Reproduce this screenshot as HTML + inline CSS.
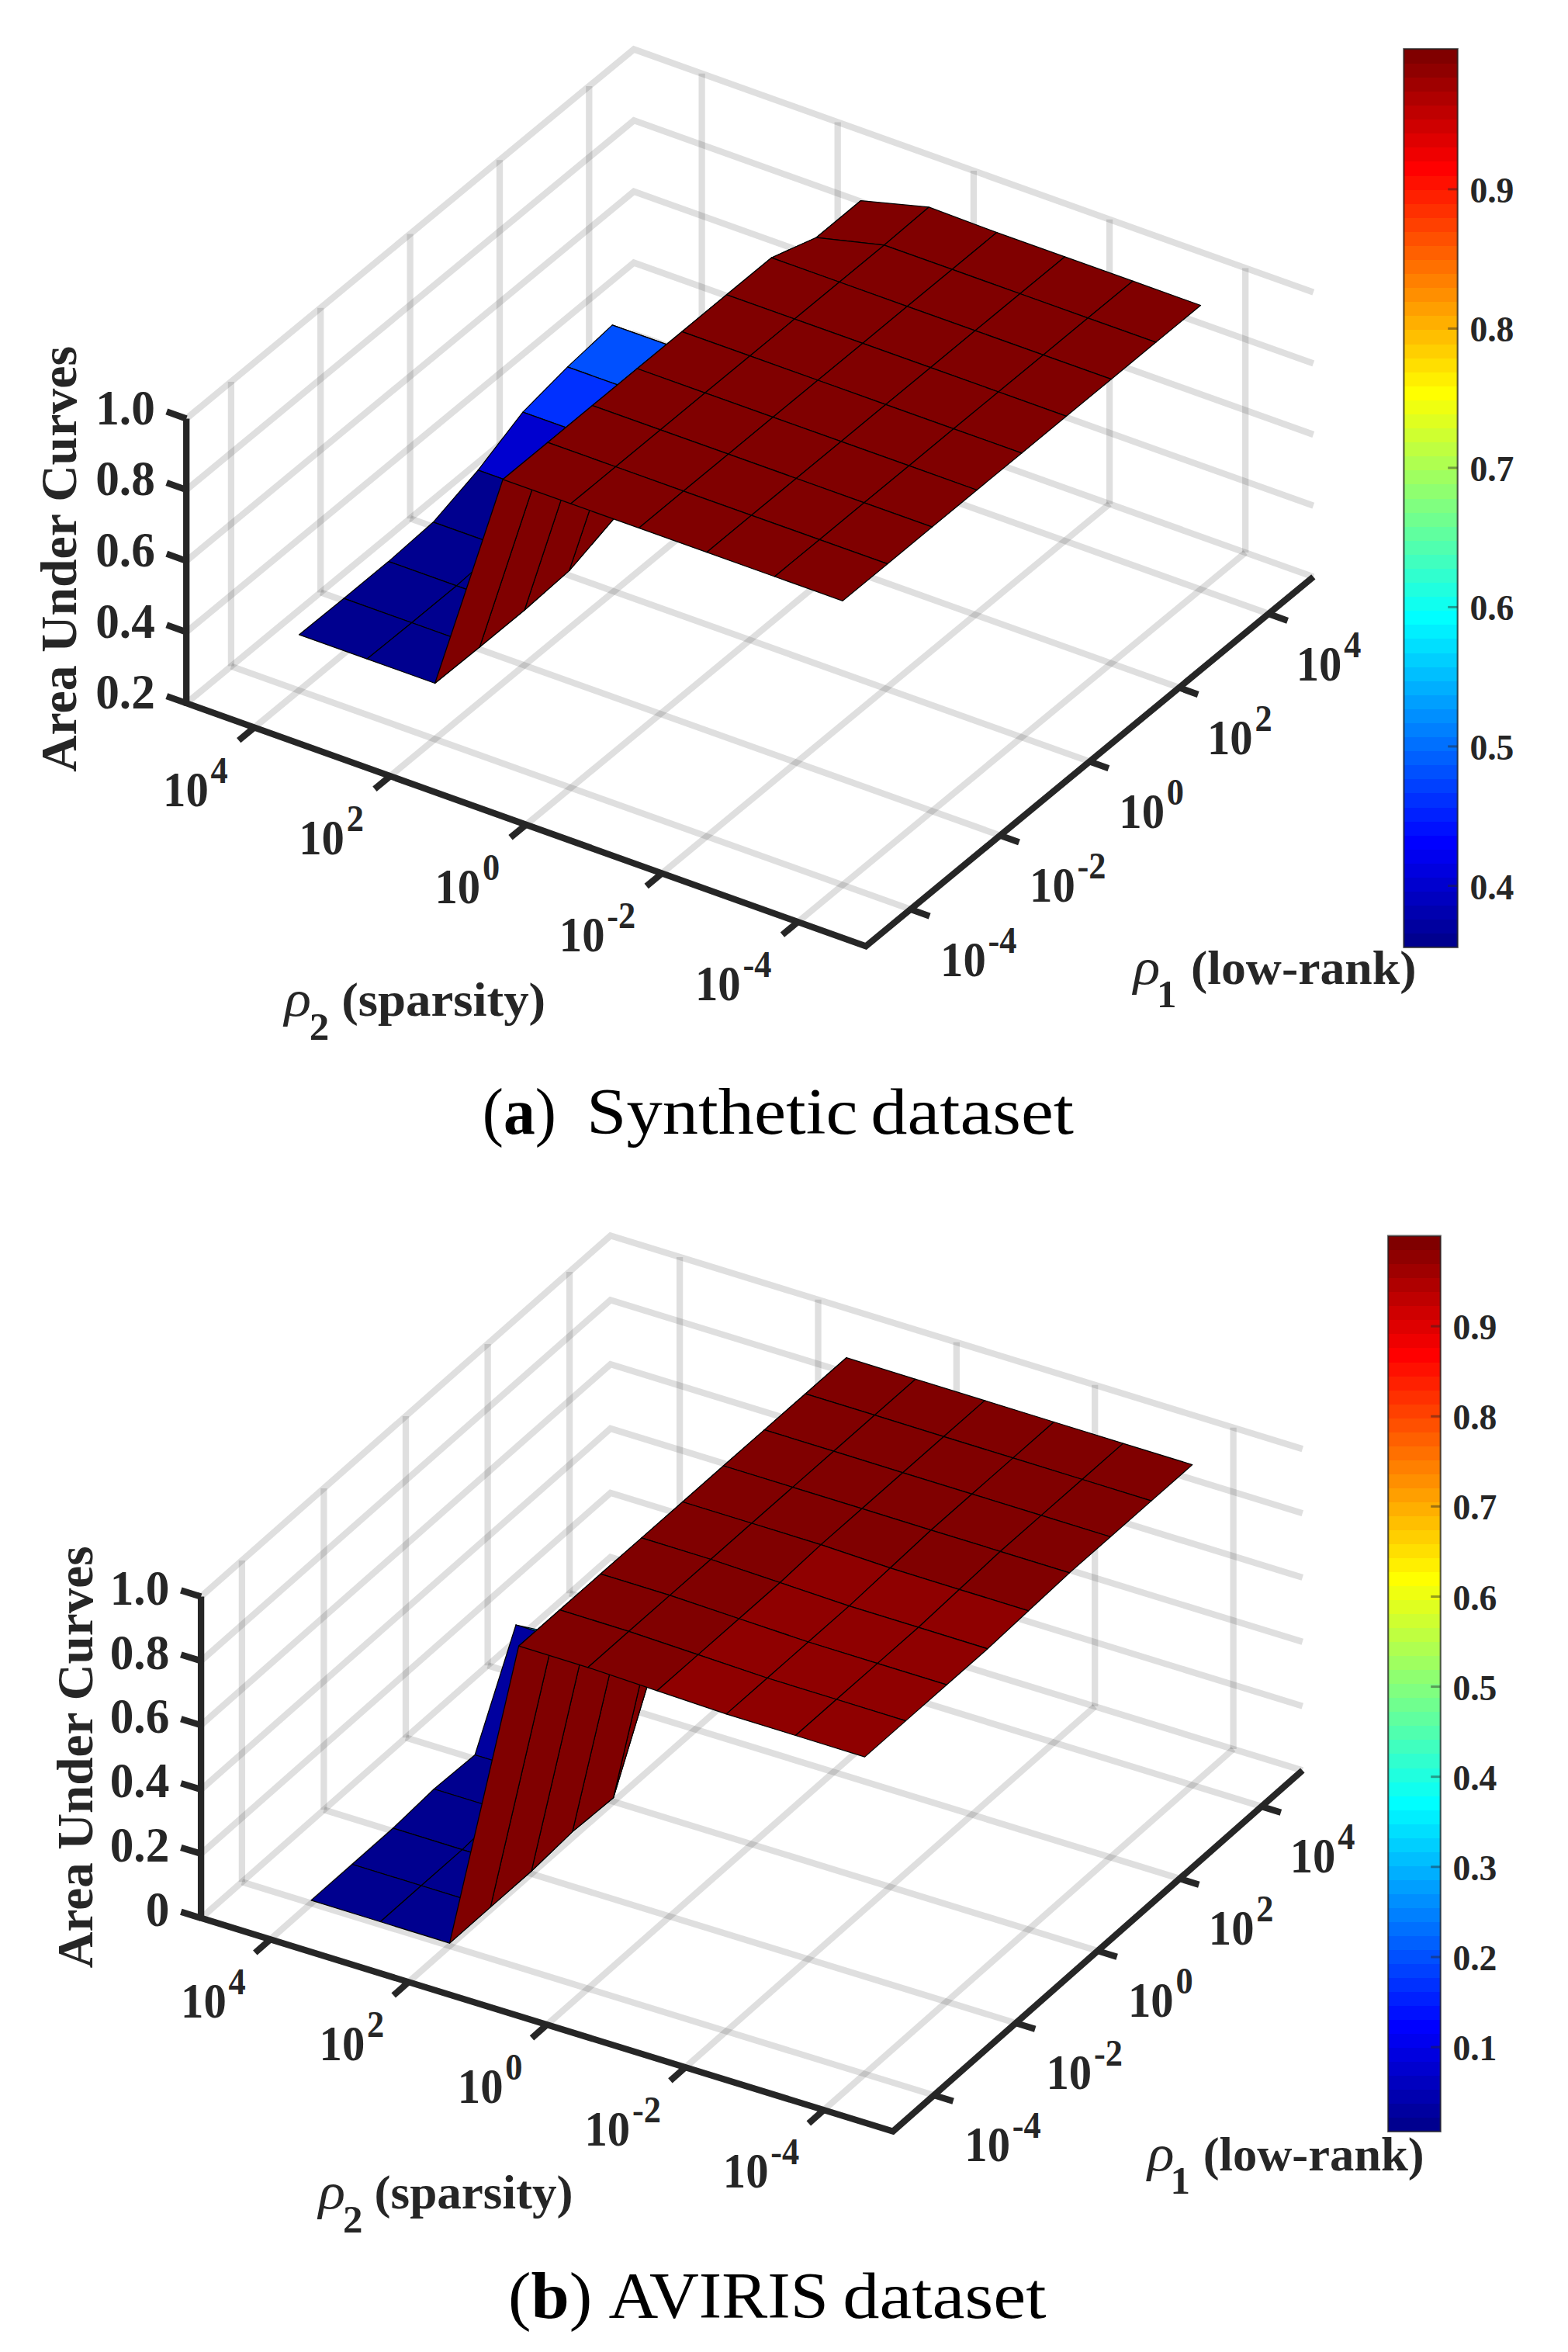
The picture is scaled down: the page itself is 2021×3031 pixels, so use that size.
<!DOCTYPE html>
<html lang="en">
<head>
<meta charset="utf-8">
<title>Area Under Curves versus rho1 (low-rank) and rho2 (sparsity)</title>
<style>
html,body{margin:0;padding:0;background:#fff;}
body{width:2021px;height:3031px;overflow:hidden;}
svg{display:block;}
</style>
</head>
<body>
<svg width="2021" height="3031" viewBox="0 0 2021 3031">
<rect width="2021" height="3031" fill="#fff"/>
<!-- (a) Synthetic dataset -->
<g><line x1="327.8" y1="937.5" x2="904.6" y2="461.5" stroke="rgba(38,38,38,0.15)" stroke-width="8.3" stroke-linecap="butt"/><line x1="502.9" y1="1000.2" x2="1079.7" y2="524.2" stroke="rgba(38,38,38,0.15)" stroke-width="8.3" stroke-linecap="butt"/><line x1="678.1" y1="1062.8" x2="1254.9" y2="586.8" stroke="rgba(38,38,38,0.15)" stroke-width="8.3" stroke-linecap="butt"/><line x1="853.3" y1="1125.4" x2="1430.1" y2="649.4" stroke="rgba(38,38,38,0.15)" stroke-width="8.3" stroke-linecap="butt"/><line x1="1028.4" y1="1188.1" x2="1605.2" y2="712.1" stroke="rgba(38,38,38,0.15)" stroke-width="8.3" stroke-linecap="butt"/><line x1="759.3" y1="477.8" x2="1635.1" y2="791" stroke="rgba(38,38,38,0.15)" stroke-width="8.3" stroke-linecap="butt"/><line x1="644" y1="573" x2="1519.8" y2="886.2" stroke="rgba(38,38,38,0.15)" stroke-width="8.3" stroke-linecap="butt"/><line x1="528.6" y1="668.2" x2="1404.4" y2="981.4" stroke="rgba(38,38,38,0.15)" stroke-width="8.3" stroke-linecap="butt"/><line x1="413.2" y1="763.4" x2="1289" y2="1076.6" stroke="rgba(38,38,38,0.15)" stroke-width="8.3" stroke-linecap="butt"/><line x1="297.9" y1="858.6" x2="1173.7" y2="1171.8" stroke="rgba(38,38,38,0.15)" stroke-width="8.3" stroke-linecap="butt"/><line x1="759.3" y1="477.8" x2="759.3" y2="111.1" stroke="rgba(38,38,38,0.15)" stroke-width="8.3" stroke-linecap="butt"/><line x1="644" y1="573" x2="644" y2="206.3" stroke="rgba(38,38,38,0.15)" stroke-width="8.3" stroke-linecap="butt"/><line x1="528.6" y1="668.2" x2="528.6" y2="301.5" stroke="rgba(38,38,38,0.15)" stroke-width="8.3" stroke-linecap="butt"/><line x1="413.2" y1="763.4" x2="413.2" y2="396.7" stroke="rgba(38,38,38,0.15)" stroke-width="8.3" stroke-linecap="butt"/><line x1="297.9" y1="858.6" x2="297.9" y2="491.9" stroke="rgba(38,38,38,0.15)" stroke-width="8.3" stroke-linecap="butt"/><line x1="904.6" y1="461.5" x2="904.6" y2="94.8" stroke="rgba(38,38,38,0.15)" stroke-width="8.3" stroke-linecap="butt"/><line x1="1079.7" y1="524.2" x2="1079.7" y2="157.4" stroke="rgba(38,38,38,0.15)" stroke-width="8.3" stroke-linecap="butt"/><line x1="1254.9" y1="586.8" x2="1254.9" y2="220.1" stroke="rgba(38,38,38,0.15)" stroke-width="8.3" stroke-linecap="butt"/><line x1="1430.1" y1="649.4" x2="1430.1" y2="282.7" stroke="rgba(38,38,38,0.15)" stroke-width="8.3" stroke-linecap="butt"/><line x1="1605.2" y1="712.1" x2="1605.2" y2="345.4" stroke="rgba(38,38,38,0.15)" stroke-width="8.3" stroke-linecap="butt"/><polyline points="240.2,906.2 817,430.2 1692.8,743.4" fill="none" stroke="rgba(38,38,38,0.15)" stroke-width="8.3" stroke-linejoin="miter"/><polyline points="240.2,814.5 817,338.5 1692.8,651.7" fill="none" stroke="rgba(38,38,38,0.15)" stroke-width="8.3" stroke-linejoin="miter"/><polyline points="240.2,722.8 817,246.8 1692.8,560" fill="none" stroke="rgba(38,38,38,0.15)" stroke-width="8.3" stroke-linejoin="miter"/><polyline points="240.2,631.2 817,155.2 1692.8,468.4" fill="none" stroke="rgba(38,38,38,0.15)" stroke-width="8.3" stroke-linejoin="miter"/><polyline points="240.2,539.5 817,63.5 1692.8,376.7" fill="none" stroke="rgba(38,38,38,0.15)" stroke-width="8.3" stroke-linejoin="miter"/></g>
<g stroke="#000" stroke-width="1.25" stroke-linejoin="round"><polygon points="789.2,418.9 876.8,450.2 934.5,539.2 846.9,507.9" fill="#0070ff"/><polygon points="876.8,450.2 964.4,481.5 1022.1,570.5 934.5,539.2" fill="#0070ff"/><polygon points="964.4,481.5 1052,306.2 1109.6,258.6 1022.1,570.5" fill="#800000"/><polygon points="1052,306.2 1139.5,315.9 1197.2,266.9 1109.6,258.6" fill="#800000"/><polygon points="1139.5,315.9 1227.1,347.2 1284.8,299.6 1197.2,266.9" fill="#800000"/><polygon points="1227.1,347.2 1314.7,378.5 1372.4,330.9 1284.8,299.6" fill="#800000"/><polygon points="1314.7,378.5 1402.3,409.8 1460,362.2 1372.4,330.9" fill="#800000"/><polygon points="1402.3,409.8 1489.9,441.1 1547.5,393.5 1460,362.2" fill="#800000"/><polygon points="731.5,472.9 819.1,504.2 876.8,450.2 789.2,418.9" fill="#0050ff"/><polygon points="819.1,504.2 906.7,535.5 964.4,481.5 876.8,450.2" fill="#0050ff"/><polygon points="906.7,535.5 994.3,332.2 1052,306.2 964.4,481.5" fill="#800000"/><polygon points="994.3,332.2 1081.9,363.5 1139.5,315.9 1052,306.2" fill="#800000"/><polygon points="1081.9,363.5 1169.4,394.8 1227.1,347.2 1139.5,315.9" fill="#800000"/><polygon points="1169.4,394.8 1257,426.1 1314.7,378.5 1227.1,347.2" fill="#800000"/><polygon points="1257,426.1 1344.6,457.4 1402.3,409.8 1314.7,378.5" fill="#800000"/><polygon points="1344.6,457.4 1432.2,488.7 1489.9,441.1 1402.3,409.8" fill="#800000"/><polygon points="673.9,531.1 761.4,562.4 819.1,504.2 731.5,472.9" fill="#0030ff"/><polygon points="761.4,562.4 849,593.7 906.7,535.5 819.1,504.2" fill="#0030ff"/><polygon points="849,593.7 936.6,379.8 994.3,332.2 906.7,535.5" fill="#800000"/><polygon points="936.6,379.8 1024.2,411.1 1081.9,363.5 994.3,332.2" fill="#800000"/><polygon points="1024.2,411.1 1111.8,442.4 1169.4,394.8 1081.9,363.5" fill="#800000"/><polygon points="1111.8,442.4 1199.3,473.7 1257,426.1 1169.4,394.8" fill="#800000"/><polygon points="1199.3,473.7 1286.9,505 1344.6,457.4 1257,426.1" fill="#800000"/><polygon points="1286.9,505 1374.5,536.3 1432.2,488.7 1344.6,457.4" fill="#800000"/><polygon points="616.2,605.8 703.8,637.1 761.4,562.4 673.9,531.1" fill="#0000cf"/><polygon points="703.8,637.1 791.3,668.4 849,593.7 761.4,562.4" fill="#0000cf"/><polygon points="791.3,668.4 878.9,427.4 936.6,379.8 849,593.7" fill="#800000"/><polygon points="878.9,427.4 966.5,458.7 1024.2,411.1 936.6,379.8" fill="#800000"/><polygon points="966.5,458.7 1054.1,490 1111.8,442.4 1024.2,411.1" fill="#800000"/><polygon points="1054.1,490 1141.7,521.3 1199.3,473.7 1111.8,442.4" fill="#800000"/><polygon points="1141.7,521.3 1229.2,552.6 1286.9,505 1199.3,473.7" fill="#800000"/><polygon points="1229.2,552.6 1316.8,583.9 1374.5,536.3 1286.9,505" fill="#800000"/><polygon points="558.5,672.8 646.1,704.1 703.8,637.1 616.2,605.8" fill="#00008f"/><polygon points="646.1,704.1 733.7,735.4 791.3,668.4 703.8,637.1" fill="#00008f"/><polygon points="733.7,735.4 821.2,475 878.9,427.4 791.3,668.4" fill="#800000"/><polygon points="821.2,475 908.8,506.3 966.5,458.7 878.9,427.4" fill="#800000"/><polygon points="908.8,506.3 996.4,537.6 1054.1,490 966.5,458.7" fill="#800000"/><polygon points="996.4,537.6 1084,568.9 1141.7,521.3 1054.1,490" fill="#800000"/><polygon points="1084,568.9 1171.6,600.2 1229.2,552.6 1141.7,521.3" fill="#800000"/><polygon points="1171.6,600.2 1259.1,631.5 1316.8,583.9 1229.2,552.6" fill="#800000"/><polygon points="500.8,723.6 588.4,754.9 646.1,704.1 558.5,672.8" fill="#00008f"/><polygon points="588.4,754.9 676,786.2 733.7,735.4 646.1,704.1" fill="#00008f"/><polygon points="676,786.2 763.6,522.6 821.2,475 733.7,735.4" fill="#800000"/><polygon points="763.6,522.6 851.1,553.9 908.8,506.3 821.2,475" fill="#800000"/><polygon points="851.1,553.9 938.7,585.2 996.4,537.6 908.8,506.3" fill="#800000"/><polygon points="938.7,585.2 1026.3,616.5 1084,568.9 996.4,537.6" fill="#800000"/><polygon points="1026.3,616.5 1113.9,647.8 1171.6,600.2 1084,568.9" fill="#800000"/><polygon points="1113.9,647.8 1201.5,679.1 1259.1,631.5 1171.6,600.2" fill="#800000"/><polygon points="443.1,771.2 530.7,802.5 588.4,754.9 500.8,723.6" fill="#00008f"/><polygon points="530.7,802.5 618.3,833.8 676,786.2 588.4,754.9" fill="#00008f"/><polygon points="618.3,833.8 705.9,570.2 763.6,522.6 676,786.2" fill="#800000"/><polygon points="705.9,570.2 793.5,601.5 851.1,553.9 763.6,522.6" fill="#800000"/><polygon points="793.5,601.5 881,632.8 938.7,585.2 851.1,553.9" fill="#800000"/><polygon points="881,632.8 968.6,664.1 1026.3,616.5 938.7,585.2" fill="#800000"/><polygon points="968.6,664.1 1056.2,695.4 1113.9,647.8 1026.3,616.5" fill="#800000"/><polygon points="1056.2,695.4 1143.8,726.7 1201.5,679.1 1113.9,647.8" fill="#800000"/><polygon points="385.5,817.9 473,849.2 530.7,802.5 443.1,771.2" fill="#00008f"/><polygon points="473,849.2 560.6,880.5 618.3,833.8 530.7,802.5" fill="#00008f"/><polygon points="560.6,880.5 648.2,617.8 705.9,570.2 618.3,833.8" fill="#800000"/><polygon points="648.2,617.8 735.8,649.1 793.5,601.5 705.9,570.2" fill="#800000"/><polygon points="735.8,649.1 823.4,680.4 881,632.8 793.5,601.5" fill="#800000"/><polygon points="823.4,680.4 910.9,711.7 968.6,664.1 881,632.8" fill="#800000"/><polygon points="910.9,711.7 998.5,743 1056.2,695.4 968.6,664.1" fill="#800000"/><polygon points="998.5,743 1086.1,774.3 1143.8,726.7 1056.2,695.4" fill="#800000"/></g>
<g><polyline points="240.2,539.5 240.2,906.2 1116,1219.4 1692.8,743.4" fill="none" stroke="#262626" stroke-width="8.3" stroke-linejoin="miter" stroke-linecap="butt"/><line x1="327.8" y1="937.5" x2="307.7" y2="954.1" stroke="#262626" stroke-width="8.3" stroke-linecap="butt"/><line x1="502.9" y1="1000.2" x2="482.9" y2="1016.7" stroke="#262626" stroke-width="8.3" stroke-linecap="butt"/><line x1="678.1" y1="1062.8" x2="658" y2="1079.3" stroke="#262626" stroke-width="8.3" stroke-linecap="butt"/><line x1="853.3" y1="1125.4" x2="833.2" y2="1142" stroke="#262626" stroke-width="8.3" stroke-linecap="butt"/><line x1="1028.4" y1="1188.1" x2="1008.4" y2="1204.6" stroke="#262626" stroke-width="8.3" stroke-linecap="butt"/><line x1="1635.1" y1="791" x2="1659.6" y2="799.8" stroke="#262626" stroke-width="8.3" stroke-linecap="butt"/><line x1="1519.8" y1="886.2" x2="1544.2" y2="895" stroke="#262626" stroke-width="8.3" stroke-linecap="butt"/><line x1="1404.4" y1="981.4" x2="1428.9" y2="990.2" stroke="#262626" stroke-width="8.3" stroke-linecap="butt"/><line x1="1289" y1="1076.6" x2="1313.5" y2="1085.4" stroke="#262626" stroke-width="8.3" stroke-linecap="butt"/><line x1="1173.7" y1="1171.8" x2="1198.2" y2="1180.6" stroke="#262626" stroke-width="8.3" stroke-linecap="butt"/><line x1="240.2" y1="906.2" x2="214.8" y2="897.1" stroke="#262626" stroke-width="8.3" stroke-linecap="butt"/><line x1="240.2" y1="814.5" x2="214.8" y2="805.4" stroke="#262626" stroke-width="8.3" stroke-linecap="butt"/><line x1="240.2" y1="722.8" x2="214.8" y2="713.7" stroke="#262626" stroke-width="8.3" stroke-linecap="butt"/><line x1="240.2" y1="631.2" x2="214.8" y2="622.1" stroke="#262626" stroke-width="8.3" stroke-linecap="butt"/><line x1="240.2" y1="539.5" x2="214.8" y2="530.4" stroke="#262626" stroke-width="8.3" stroke-linecap="butt"/></g>
<g font-family='"Liberation Serif", "DejaVu Serif", serif' font-weight="bold" fill="#262626"><text transform="translate(293.8,1038.5) scale(0.925,1)" font-size="63.5" text-anchor="end">10<tspan font-size="48" dy="-30" dx="3">4</tspan></text><text transform="translate(468.9,1101.2) scale(0.925,1)" font-size="63.5" text-anchor="end">10<tspan font-size="48" dy="-30" dx="3">2</tspan></text><text transform="translate(644.1,1163.8) scale(0.925,1)" font-size="63.5" text-anchor="end">10<tspan font-size="48" dy="-30" dx="3">0</tspan></text><text transform="translate(819.3,1226.4) scale(0.925,1)" font-size="63.5" text-anchor="end">10<tspan font-size="48" dy="-30" dx="3">-2</tspan></text><text transform="translate(994.4,1289.1) scale(0.925,1)" font-size="63.5" text-anchor="end">10<tspan font-size="48" dy="-30" dx="3">-4</tspan></text><text transform="translate(1670.7,876.7) scale(0.925,1)" font-size="63.5" text-anchor="start">10<tspan font-size="48" dy="-30" dx="3">4</tspan></text><text transform="translate(1556,971.9) scale(0.925,1)" font-size="63.5" text-anchor="start">10<tspan font-size="48" dy="-30" dx="3">2</tspan></text><text transform="translate(1442.3,1067.1) scale(0.925,1)" font-size="63.5" text-anchor="start">10<tspan font-size="48" dy="-30" dx="3">0</tspan></text><text transform="translate(1327.1,1162.3) scale(0.925,1)" font-size="63.5" text-anchor="start">10<tspan font-size="48" dy="-30" dx="3">-2</tspan></text><text transform="translate(1212.1,1257.5) scale(0.925,1)" font-size="63.5" text-anchor="start">10<tspan font-size="48" dy="-30" dx="3">-4</tspan></text><text transform="translate(199.8,913.4) scale(0.965,1)" font-size="63.5" text-anchor="end">0.2</text><text transform="translate(199.8,821.7) scale(0.965,1)" font-size="63.5" text-anchor="end">0.4</text><text transform="translate(199.8,730) scale(0.965,1)" font-size="63.5" text-anchor="end">0.6</text><text transform="translate(199.8,638.4) scale(0.965,1)" font-size="63.5" text-anchor="end">0.8</text><text transform="translate(199.8,546.7) scale(0.965,1)" font-size="63.5" text-anchor="end">1.0</text><text x="366.5" y="1309.4" font-size="65" font-style="italic" font-weight="normal" textLength="34.5" lengthAdjust="spacingAndGlyphs">ρ</text><text x="398.7" y="1339.9" font-size="51">2</text><text x="440.2" y="1309.4" font-size="61.5" textLength="263" lengthAdjust="spacingAndGlyphs">(sparsity)</text><text x="1460.7" y="1267.5" font-size="65" font-style="italic" font-weight="normal" textLength="34.5" lengthAdjust="spacingAndGlyphs">ρ</text><text x="1491" y="1298" font-size="51">1</text><text x="1535" y="1267.5" font-size="61.5" textLength="290.5" lengthAdjust="spacingAndGlyphs">(low-rank)</text><text transform="translate(98.2,720.5) rotate(-90)" font-size="64.5" text-anchor="middle" textLength="549" lengthAdjust="spacingAndGlyphs">Area Under Curves</text></g>
<g shape-rendering="crispEdges"><rect x="1809.4" y="1202.71" width="69.3" height="18.69" fill="#00008f"/><rect x="1809.4" y="1184.62" width="69.3" height="18.69" fill="#00009f"/><rect x="1809.4" y="1166.53" width="69.3" height="18.69" fill="#0000af"/><rect x="1809.4" y="1148.44" width="69.3" height="18.69" fill="#0000bf"/><rect x="1809.4" y="1130.35" width="69.3" height="18.69" fill="#0000cf"/><rect x="1809.4" y="1112.27" width="69.3" height="18.69" fill="#0000df"/><rect x="1809.4" y="1094.18" width="69.3" height="18.69" fill="#0000ef"/><rect x="1809.4" y="1076.09" width="69.3" height="18.69" fill="#0000ff"/><rect x="1809.4" y="1058.00" width="69.3" height="18.69" fill="#0010ff"/><rect x="1809.4" y="1039.91" width="69.3" height="18.69" fill="#0020ff"/><rect x="1809.4" y="1021.82" width="69.3" height="18.69" fill="#0030ff"/><rect x="1809.4" y="1003.73" width="69.3" height="18.69" fill="#0040ff"/><rect x="1809.4" y="985.64" width="69.3" height="18.69" fill="#0050ff"/><rect x="1809.4" y="967.55" width="69.3" height="18.69" fill="#0060ff"/><rect x="1809.4" y="949.46" width="69.3" height="18.69" fill="#0070ff"/><rect x="1809.4" y="931.38" width="69.3" height="18.69" fill="#0080ff"/><rect x="1809.4" y="913.29" width="69.3" height="18.69" fill="#008fff"/><rect x="1809.4" y="895.20" width="69.3" height="18.69" fill="#009fff"/><rect x="1809.4" y="877.11" width="69.3" height="18.69" fill="#00afff"/><rect x="1809.4" y="859.02" width="69.3" height="18.69" fill="#00bfff"/><rect x="1809.4" y="840.93" width="69.3" height="18.69" fill="#00cfff"/><rect x="1809.4" y="822.84" width="69.3" height="18.69" fill="#00dfff"/><rect x="1809.4" y="804.75" width="69.3" height="18.69" fill="#00efff"/><rect x="1809.4" y="786.66" width="69.3" height="18.69" fill="#00ffff"/><rect x="1809.4" y="768.57" width="69.3" height="18.69" fill="#10ffef"/><rect x="1809.4" y="750.48" width="69.3" height="18.69" fill="#20ffdf"/><rect x="1809.4" y="732.40" width="69.3" height="18.69" fill="#30ffcf"/><rect x="1809.4" y="714.31" width="69.3" height="18.69" fill="#40ffbf"/><rect x="1809.4" y="696.22" width="69.3" height="18.69" fill="#50ffaf"/><rect x="1809.4" y="678.13" width="69.3" height="18.69" fill="#60ff9f"/><rect x="1809.4" y="660.04" width="69.3" height="18.69" fill="#70ff8f"/><rect x="1809.4" y="641.95" width="69.3" height="18.69" fill="#80ff80"/><rect x="1809.4" y="623.86" width="69.3" height="18.69" fill="#8fff70"/><rect x="1809.4" y="605.77" width="69.3" height="18.69" fill="#9fff60"/><rect x="1809.4" y="587.68" width="69.3" height="18.69" fill="#afff50"/><rect x="1809.4" y="569.59" width="69.3" height="18.69" fill="#bfff40"/><rect x="1809.4" y="551.50" width="69.3" height="18.69" fill="#cfff30"/><rect x="1809.4" y="533.42" width="69.3" height="18.69" fill="#dfff20"/><rect x="1809.4" y="515.33" width="69.3" height="18.69" fill="#efff10"/><rect x="1809.4" y="497.24" width="69.3" height="18.69" fill="#ffff00"/><rect x="1809.4" y="479.15" width="69.3" height="18.69" fill="#ffef00"/><rect x="1809.4" y="461.06" width="69.3" height="18.69" fill="#ffdf00"/><rect x="1809.4" y="442.97" width="69.3" height="18.69" fill="#ffcf00"/><rect x="1809.4" y="424.88" width="69.3" height="18.69" fill="#ffbf00"/><rect x="1809.4" y="406.79" width="69.3" height="18.69" fill="#ffaf00"/><rect x="1809.4" y="388.70" width="69.3" height="18.69" fill="#ff9f00"/><rect x="1809.4" y="370.61" width="69.3" height="18.69" fill="#ff8f00"/><rect x="1809.4" y="352.52" width="69.3" height="18.69" fill="#ff8000"/><rect x="1809.4" y="334.44" width="69.3" height="18.69" fill="#ff7000"/><rect x="1809.4" y="316.35" width="69.3" height="18.69" fill="#ff6000"/><rect x="1809.4" y="298.26" width="69.3" height="18.69" fill="#ff5000"/><rect x="1809.4" y="280.17" width="69.3" height="18.69" fill="#ff4000"/><rect x="1809.4" y="262.08" width="69.3" height="18.69" fill="#ff3000"/><rect x="1809.4" y="243.99" width="69.3" height="18.69" fill="#ff2000"/><rect x="1809.4" y="225.90" width="69.3" height="18.69" fill="#ff1000"/><rect x="1809.4" y="207.81" width="69.3" height="18.69" fill="#ff0000"/><rect x="1809.4" y="189.72" width="69.3" height="18.69" fill="#ef0000"/><rect x="1809.4" y="171.63" width="69.3" height="18.69" fill="#df0000"/><rect x="1809.4" y="153.55" width="69.3" height="18.69" fill="#cf0000"/><rect x="1809.4" y="135.46" width="69.3" height="18.69" fill="#bf0000"/><rect x="1809.4" y="117.37" width="69.3" height="18.69" fill="#af0000"/><rect x="1809.4" y="99.28" width="69.3" height="18.69" fill="#9f0000"/><rect x="1809.4" y="81.19" width="69.3" height="18.69" fill="#8f0000"/><rect x="1809.4" y="63.10" width="69.3" height="18.69" fill="#800000"/></g>
<rect x="1809.4" y="63.1" width="69.3" height="1157.7" fill="none" stroke="rgba(38,38,38,0.75)" stroke-width="2.2"/>
<line x1="1866.2" y1="1141.5" x2="1878.7" y2="1141.5" stroke="rgba(38,38,38,0.45)" stroke-width="3" stroke-linecap="butt"/>
<line x1="1866.2" y1="961.9" x2="1878.7" y2="961.9" stroke="rgba(38,38,38,0.45)" stroke-width="3" stroke-linecap="butt"/>
<line x1="1866.2" y1="782.4" x2="1878.7" y2="782.4" stroke="rgba(38,38,38,0.45)" stroke-width="3" stroke-linecap="butt"/>
<line x1="1866.2" y1="602.9" x2="1878.7" y2="602.9" stroke="rgba(38,38,38,0.45)" stroke-width="3" stroke-linecap="butt"/>
<line x1="1866.2" y1="423.4" x2="1878.7" y2="423.4" stroke="rgba(38,38,38,0.45)" stroke-width="3" stroke-linecap="butt"/>
<line x1="1866.2" y1="243.9" x2="1878.7" y2="243.9" stroke="rgba(38,38,38,0.45)" stroke-width="3" stroke-linecap="butt"/>
<g font-family='"Liberation Serif", "DejaVu Serif", serif' font-weight="bold" fill="#262626"><text x="1894.4" y="1158.5" font-size="46" textLength="57" lengthAdjust="spacingAndGlyphs">0.4</text><text x="1894.4" y="978.9" font-size="46" textLength="57" lengthAdjust="spacingAndGlyphs">0.5</text><text x="1894.4" y="799.4" font-size="46" textLength="57" lengthAdjust="spacingAndGlyphs">0.6</text><text x="1894.4" y="619.9" font-size="46" textLength="57" lengthAdjust="spacingAndGlyphs">0.7</text><text x="1894.4" y="440.4" font-size="46" textLength="57" lengthAdjust="spacingAndGlyphs">0.8</text><text x="1894.4" y="260.9" font-size="46" textLength="57" lengthAdjust="spacingAndGlyphs">0.9</text></g>
<!-- (b) AVIRIS dataset -->
<g><line x1="348.3" y1="2499.3" x2="876.1" y2="2034.2" stroke="rgba(38,38,38,0.15)" stroke-width="8.3" stroke-linecap="butt"/><line x1="526.7" y1="2554.2" x2="1054.5" y2="2089.1" stroke="rgba(38,38,38,0.15)" stroke-width="8.3" stroke-linecap="butt"/><line x1="705" y1="2609.2" x2="1232.8" y2="2144.1" stroke="rgba(38,38,38,0.15)" stroke-width="8.3" stroke-linecap="butt"/><line x1="883.4" y1="2664.2" x2="1411.2" y2="2199.1" stroke="rgba(38,38,38,0.15)" stroke-width="8.3" stroke-linecap="butt"/><line x1="1061.8" y1="2719.1" x2="1589.6" y2="2254" stroke="rgba(38,38,38,0.15)" stroke-width="8.3" stroke-linecap="butt"/><line x1="734.1" y1="2053.2" x2="1626" y2="2328" stroke="rgba(38,38,38,0.15)" stroke-width="8.3" stroke-linecap="butt"/><line x1="628.6" y1="2146.2" x2="1520.5" y2="2421" stroke="rgba(38,38,38,0.15)" stroke-width="8.3" stroke-linecap="butt"/><line x1="523" y1="2239.2" x2="1414.9" y2="2514.1" stroke="rgba(38,38,38,0.15)" stroke-width="8.3" stroke-linecap="butt"/><line x1="417.4" y1="2332.3" x2="1309.3" y2="2607.1" stroke="rgba(38,38,38,0.15)" stroke-width="8.3" stroke-linecap="butt"/><line x1="311.9" y1="2425.3" x2="1203.8" y2="2700.1" stroke="rgba(38,38,38,0.15)" stroke-width="8.3" stroke-linecap="butt"/><line x1="734.1" y1="2053.2" x2="734.1" y2="1638.9" stroke="rgba(38,38,38,0.15)" stroke-width="8.3" stroke-linecap="butt"/><line x1="628.6" y1="2146.2" x2="628.6" y2="1731.9" stroke="rgba(38,38,38,0.15)" stroke-width="8.3" stroke-linecap="butt"/><line x1="523" y1="2239.2" x2="523" y2="1825" stroke="rgba(38,38,38,0.15)" stroke-width="8.3" stroke-linecap="butt"/><line x1="417.4" y1="2332.3" x2="417.4" y2="1918" stroke="rgba(38,38,38,0.15)" stroke-width="8.3" stroke-linecap="butt"/><line x1="311.9" y1="2425.3" x2="311.9" y2="2011" stroke="rgba(38,38,38,0.15)" stroke-width="8.3" stroke-linecap="butt"/><line x1="876.1" y1="2034.2" x2="876.1" y2="1619.9" stroke="rgba(38,38,38,0.15)" stroke-width="8.3" stroke-linecap="butt"/><line x1="1054.5" y1="2089.1" x2="1054.5" y2="1674.8" stroke="rgba(38,38,38,0.15)" stroke-width="8.3" stroke-linecap="butt"/><line x1="1232.8" y1="2144.1" x2="1232.8" y2="1729.8" stroke="rgba(38,38,38,0.15)" stroke-width="8.3" stroke-linecap="butt"/><line x1="1411.2" y1="2199.1" x2="1411.2" y2="1784.8" stroke="rgba(38,38,38,0.15)" stroke-width="8.3" stroke-linecap="butt"/><line x1="1589.6" y1="2254" x2="1589.6" y2="1839.7" stroke="rgba(38,38,38,0.15)" stroke-width="8.3" stroke-linecap="butt"/><polyline points="259.1,2471.8 786.9,2006.7 1678.8,2281.5" fill="none" stroke="rgba(38,38,38,0.15)" stroke-width="8.3" stroke-linejoin="miter"/><polyline points="259.1,2388.9 786.9,1923.8 1678.8,2198.6" fill="none" stroke="rgba(38,38,38,0.15)" stroke-width="8.3" stroke-linejoin="miter"/><polyline points="259.1,2306.1 786.9,1841 1678.8,2115.8" fill="none" stroke="rgba(38,38,38,0.15)" stroke-width="8.3" stroke-linejoin="miter"/><polyline points="259.1,2223.2 786.9,1758.1 1678.8,2032.9" fill="none" stroke="rgba(38,38,38,0.15)" stroke-width="8.3" stroke-linejoin="miter"/><polyline points="259.1,2140.4 786.9,1675.3 1678.8,1950.1" fill="none" stroke="rgba(38,38,38,0.15)" stroke-width="8.3" stroke-linejoin="miter"/><polyline points="259.1,2057.5 786.9,1592.4 1678.8,1867.2" fill="none" stroke="rgba(38,38,38,0.15)" stroke-width="8.3" stroke-linejoin="miter"/></g>
<g stroke="#000" stroke-width="1.25" stroke-linejoin="round"><polygon points="770.5,2125.5 859.7,2153.1 912.5,2106.7 823.3,2079.1" fill="#00008f"/><polygon points="859.7,2153.1 948.9,2180.7 1001.7,2134.3 912.5,2106.7" fill="#00008f"/><polygon points="948.9,2180.7 1038.1,1796.2 1090.9,1749.7 1001.7,2134.3" fill="#800000"/><polygon points="1038.1,1796.2 1127.3,1823.7 1180.1,1777.3 1090.9,1749.7" fill="#800000"/><polygon points="1127.3,1823.7 1216.5,1851.3 1269.3,1804.9 1180.1,1777.3" fill="#800000"/><polygon points="1216.5,1851.3 1305.7,1878.9 1358.4,1832.5 1269.3,1804.9" fill="#800000"/><polygon points="1305.7,1878.9 1394.9,1906.5 1447.6,1860.1 1358.4,1832.5" fill="#800000"/><polygon points="1394.9,1906.5 1484,1934.1 1536.8,1887.6 1447.6,1860.1" fill="#800000"/><polygon points="717.8,2105.6 806.9,2133.2 859.7,2153.1 770.5,2125.5" fill="#0020ff"/><polygon points="806.9,2133.2 896.1,2160.8 948.9,2180.7 859.7,2153.1" fill="#0020ff"/><polygon points="896.1,2160.8 985.3,1842.6 1038.1,1796.2 948.9,2180.7" fill="#800000"/><polygon points="985.3,1842.6 1074.5,1870.2 1127.3,1823.7 1038.1,1796.2" fill="#800000"/><polygon points="1074.5,1870.2 1163.7,1897.8 1216.5,1851.3 1127.3,1823.7" fill="#800000"/><polygon points="1163.7,1897.8 1252.9,1925.3 1305.7,1878.9 1216.5,1851.3" fill="#800000"/><polygon points="1252.9,1925.3 1342.1,1952.9 1394.9,1906.5 1305.7,1878.9" fill="#800000"/><polygon points="1342.1,1952.9 1431.3,1980.5 1484,1934.1 1394.9,1906.5" fill="#800000"/><polygon points="665,2094 754.2,2121.6 806.9,2133.2 717.8,2105.6" fill="#00afff"/><polygon points="754.2,2121.6 843.4,2142.5 896.1,2160.8 806.9,2133.2" fill="#00bfff"/><polygon points="843.4,2142.5 932.5,1889 985.3,1842.6 896.1,2160.8" fill="#800000"/><polygon points="932.5,1889 1021.7,1916.6 1074.5,1870.2 985.3,1842.6" fill="#800000"/><polygon points="1021.7,1916.6 1110.9,1944.2 1163.7,1897.8 1074.5,1870.2" fill="#800000"/><polygon points="1110.9,1944.2 1200.1,1971.8 1252.9,1925.3 1163.7,1897.8" fill="#800000"/><polygon points="1200.1,1971.8 1289.3,1999.3 1342.1,1952.9 1252.9,1925.3" fill="#800000"/><polygon points="1289.3,1999.3 1378.5,2026.9 1431.3,1980.5 1342.1,1952.9" fill="#800000"/><polygon points="612.2,2261.5 701.4,2289.1 754.2,2121.6 665,2094" fill="#00009f"/><polygon points="701.4,2289.1 790.6,2316.7 843.4,2142.5 754.2,2121.6" fill="#00009f"/><polygon points="790.6,2316.7 879.8,1935.5 932.5,1889 843.4,2142.5" fill="#800000"/><polygon points="879.8,1935.5 968.9,1963 1021.7,1916.6 932.5,1889" fill="#800000"/><polygon points="968.9,1963 1058.1,1990.6 1110.9,1944.2 1021.7,1916.6" fill="#800000"/><polygon points="1058.1,1990.6 1147.3,2020.7 1200.1,1971.8 1110.9,1944.2" fill="#800000"/><polygon points="1147.3,2020.7 1236.5,2048.3 1289.3,1999.3 1200.1,1971.8" fill="#800000"/><polygon points="1236.5,2048.3 1325.7,2075.8 1378.5,2026.9 1289.3,1999.3" fill="#800000"/><polygon points="559.4,2305.5 648.6,2333 701.4,2289.1 612.2,2261.5" fill="#00008f"/><polygon points="648.6,2333 737.8,2360.6 790.6,2316.7 701.4,2289.1" fill="#00008f"/><polygon points="737.8,2360.6 827,1981.9 879.8,1935.5 790.6,2316.7" fill="#800000"/><polygon points="827,1981.9 916.2,2009.5 968.9,1963 879.8,1935.5" fill="#800000"/><polygon points="916.2,2009.5 1005.4,2039.5 1058.1,1990.6 968.9,1963" fill="#800000"/><polygon points="1005.4,2039.5 1094.5,2069.6 1147.3,2020.7 1058.1,1990.6" fill="#8f0000"/><polygon points="1094.5,2069.6 1183.7,2097.2 1236.5,2048.3 1147.3,2020.7" fill="#8f0000"/><polygon points="1183.7,2097.2 1272.9,2124.8 1325.7,2075.8 1236.5,2048.3" fill="#8f0000"/><polygon points="506.6,2356 595.8,2383.6 648.6,2333 559.4,2305.5" fill="#00008f"/><polygon points="595.8,2383.6 685,2411.2 737.8,2360.6 648.6,2333" fill="#00008f"/><polygon points="685,2411.2 774.2,2028.3 827,1981.9 737.8,2360.6" fill="#800000"/><polygon points="774.2,2028.3 863.4,2055.9 916.2,2009.5 827,1981.9" fill="#800000"/><polygon points="863.4,2055.9 952.6,2086 1005.4,2039.5 916.2,2009.5" fill="#800000"/><polygon points="952.6,2086 1041.8,2116 1094.5,2069.6 1005.4,2039.5" fill="#8f0000"/><polygon points="1041.8,2116 1131,2143.6 1183.7,2097.2 1094.5,2069.6" fill="#8f0000"/><polygon points="1131,2143.6 1220.1,2171.2 1272.9,2124.8 1183.7,2097.2" fill="#8f0000"/><polygon points="453.9,2402.5 543,2430 595.8,2383.6 506.6,2356" fill="#00008f"/><polygon points="543,2430 632.2,2457.6 685,2411.2 595.8,2383.6" fill="#00008f"/><polygon points="632.2,2457.6 721.4,2074.7 774.2,2028.3 685,2411.2" fill="#800000"/><polygon points="721.4,2074.7 810.6,2102.3 863.4,2055.9 774.2,2028.3" fill="#800000"/><polygon points="810.6,2102.3 899.8,2132.4 952.6,2086 863.4,2055.9" fill="#800000"/><polygon points="899.8,2132.4 989,2162.5 1041.8,2116 952.6,2086" fill="#8f0000"/><polygon points="989,2162.5 1078.2,2190 1131,2143.6 1041.8,2116" fill="#8f0000"/><polygon points="1078.2,2190 1167.4,2217.6 1220.1,2171.2 1131,2143.6" fill="#8f0000"/><polygon points="401.1,2448.9 490.3,2476.5 543,2430 453.9,2402.5" fill="#00008f"/><polygon points="490.3,2476.5 579.5,2504.1 632.2,2457.6 543,2430" fill="#00008f"/><polygon points="579.5,2504.1 668.6,2121.2 721.4,2074.7 632.2,2457.6" fill="#800000"/><polygon points="668.6,2121.2 757.8,2148.8 810.6,2102.3 721.4,2074.7" fill="#800000"/><polygon points="757.8,2148.8 847,2178.8 899.8,2132.4 810.6,2102.3" fill="#800000"/><polygon points="847,2178.8 936.2,2208.9 989,2162.5 899.8,2132.4" fill="#8f0000"/><polygon points="936.2,2208.9 1025.4,2236.5 1078.2,2190 989,2162.5" fill="#8f0000"/><polygon points="1025.4,2236.5 1114.6,2264.1 1167.4,2217.6 1078.2,2190" fill="#8f0000"/></g>
<g><polyline points="259.1,2057.5 259.1,2471.8 1151,2746.6 1678.8,2281.5" fill="none" stroke="#262626" stroke-width="8.3" stroke-linejoin="miter" stroke-linecap="butt"/><line x1="348.3" y1="2499.3" x2="328.8" y2="2516.5" stroke="#262626" stroke-width="8.3" stroke-linecap="butt"/><line x1="526.7" y1="2554.2" x2="507.2" y2="2571.4" stroke="#262626" stroke-width="8.3" stroke-linecap="butt"/><line x1="705" y1="2609.2" x2="685.5" y2="2626.4" stroke="#262626" stroke-width="8.3" stroke-linecap="butt"/><line x1="883.4" y1="2664.2" x2="863.9" y2="2681.3" stroke="#262626" stroke-width="8.3" stroke-linecap="butt"/><line x1="1061.8" y1="2719.1" x2="1042.3" y2="2736.3" stroke="#262626" stroke-width="8.3" stroke-linecap="butt"/><line x1="1626" y1="2328" x2="1650.9" y2="2335.7" stroke="#262626" stroke-width="8.3" stroke-linecap="butt"/><line x1="1520.5" y1="2421" x2="1545.3" y2="2428.7" stroke="#262626" stroke-width="8.3" stroke-linecap="butt"/><line x1="1414.9" y1="2514.1" x2="1439.7" y2="2521.7" stroke="#262626" stroke-width="8.3" stroke-linecap="butt"/><line x1="1309.3" y1="2607.1" x2="1334.2" y2="2614.7" stroke="#262626" stroke-width="8.3" stroke-linecap="butt"/><line x1="1203.8" y1="2700.1" x2="1228.6" y2="2707.7" stroke="#262626" stroke-width="8.3" stroke-linecap="butt"/><line x1="259.1" y1="2471.8" x2="233.3" y2="2463.8" stroke="#262626" stroke-width="8.3" stroke-linecap="butt"/><line x1="259.1" y1="2388.9" x2="233.3" y2="2381" stroke="#262626" stroke-width="8.3" stroke-linecap="butt"/><line x1="259.1" y1="2306.1" x2="233.3" y2="2298.1" stroke="#262626" stroke-width="8.3" stroke-linecap="butt"/><line x1="259.1" y1="2223.2" x2="233.3" y2="2215.3" stroke="#262626" stroke-width="8.3" stroke-linecap="butt"/><line x1="259.1" y1="2140.4" x2="233.3" y2="2132.4" stroke="#262626" stroke-width="8.3" stroke-linecap="butt"/><line x1="259.1" y1="2057.5" x2="233.3" y2="2049.5" stroke="#262626" stroke-width="8.3" stroke-linecap="butt"/></g>
<g font-family='"Liberation Serif", "DejaVu Serif", serif' font-weight="bold" fill="#262626"><text transform="translate(316.8,2599.6) scale(0.925,1)" font-size="63.5" text-anchor="end">10<tspan font-size="48" dy="-30" dx="3">4</tspan></text><text transform="translate(495.2,2654.5) scale(0.925,1)" font-size="63.5" text-anchor="end">10<tspan font-size="48" dy="-30" dx="3">2</tspan></text><text transform="translate(673.5,2709.5) scale(0.925,1)" font-size="63.5" text-anchor="end">10<tspan font-size="48" dy="-30" dx="3">0</tspan></text><text transform="translate(851.9,2764.5) scale(0.925,1)" font-size="63.5" text-anchor="end">10<tspan font-size="48" dy="-30" dx="3">-2</tspan></text><text transform="translate(1030.3,2819.4) scale(0.925,1)" font-size="63.5" text-anchor="end">10<tspan font-size="48" dy="-30" dx="3">-4</tspan></text><text transform="translate(1662.7,2412.6) scale(0.925,1)" font-size="63.5" text-anchor="start">10<tspan font-size="48" dy="-30" dx="3">4</tspan></text><text transform="translate(1557.8,2505.6) scale(0.925,1)" font-size="63.5" text-anchor="start">10<tspan font-size="48" dy="-30" dx="3">2</tspan></text><text transform="translate(1453.9,2598.7) scale(0.925,1)" font-size="63.5" text-anchor="start">10<tspan font-size="48" dy="-30" dx="3">0</tspan></text><text transform="translate(1348.5,2691.7) scale(0.925,1)" font-size="63.5" text-anchor="start">10<tspan font-size="48" dy="-30" dx="3">-2</tspan></text><text transform="translate(1243.3,2784.7) scale(0.925,1)" font-size="63.5" text-anchor="start">10<tspan font-size="48" dy="-30" dx="3">-4</tspan></text><text transform="translate(218.3,2482) scale(0.965,1)" font-size="63.5" text-anchor="end">0</text><text transform="translate(218.3,2399.1) scale(0.965,1)" font-size="63.5" text-anchor="end">0.2</text><text transform="translate(218.3,2316.3) scale(0.965,1)" font-size="63.5" text-anchor="end">0.4</text><text transform="translate(218.3,2233.4) scale(0.965,1)" font-size="63.5" text-anchor="end">0.6</text><text transform="translate(218.3,2150.6) scale(0.965,1)" font-size="63.5" text-anchor="end">0.8</text><text transform="translate(218.3,2067.7) scale(0.965,1)" font-size="63.5" text-anchor="end">1.0</text><text x="410.5" y="2846" font-size="65" font-style="italic" font-weight="normal" textLength="34.5" lengthAdjust="spacingAndGlyphs">ρ</text><text x="442" y="2876.5" font-size="51">2</text><text x="482.6" y="2846" font-size="61.5" textLength="256" lengthAdjust="spacingAndGlyphs">(sparsity)</text><text x="1479" y="2796.6" font-size="65" font-style="italic" font-weight="normal" textLength="34.5" lengthAdjust="spacingAndGlyphs">ρ</text><text x="1508.5" y="2827.1" font-size="51">1</text><text x="1550.7" y="2796.6" font-size="61.5" textLength="285" lengthAdjust="spacingAndGlyphs">(low-rank)</text><text transform="translate(118.9,2264.5) rotate(-90)" font-size="64.5" text-anchor="middle" textLength="544" lengthAdjust="spacingAndGlyphs">Area Under Curves</text></g>
<g shape-rendering="crispEdges"><rect x="1789.2" y="2728.77" width="67.5" height="18.63" fill="#00008f"/><rect x="1789.2" y="2710.73" width="67.5" height="18.63" fill="#00009f"/><rect x="1789.2" y="2692.70" width="67.5" height="18.63" fill="#0000af"/><rect x="1789.2" y="2674.66" width="67.5" height="18.63" fill="#0000bf"/><rect x="1789.2" y="2656.63" width="67.5" height="18.63" fill="#0000cf"/><rect x="1789.2" y="2638.59" width="67.5" height="18.63" fill="#0000df"/><rect x="1789.2" y="2620.56" width="67.5" height="18.63" fill="#0000ef"/><rect x="1789.2" y="2602.53" width="67.5" height="18.63" fill="#0000ff"/><rect x="1789.2" y="2584.49" width="67.5" height="18.63" fill="#0010ff"/><rect x="1789.2" y="2566.46" width="67.5" height="18.63" fill="#0020ff"/><rect x="1789.2" y="2548.42" width="67.5" height="18.63" fill="#0030ff"/><rect x="1789.2" y="2530.39" width="67.5" height="18.63" fill="#0040ff"/><rect x="1789.2" y="2512.35" width="67.5" height="18.63" fill="#0050ff"/><rect x="1789.2" y="2494.32" width="67.5" height="18.63" fill="#0060ff"/><rect x="1789.2" y="2476.28" width="67.5" height="18.63" fill="#0070ff"/><rect x="1789.2" y="2458.25" width="67.5" height="18.63" fill="#0080ff"/><rect x="1789.2" y="2440.22" width="67.5" height="18.63" fill="#008fff"/><rect x="1789.2" y="2422.18" width="67.5" height="18.63" fill="#009fff"/><rect x="1789.2" y="2404.15" width="67.5" height="18.63" fill="#00afff"/><rect x="1789.2" y="2386.11" width="67.5" height="18.63" fill="#00bfff"/><rect x="1789.2" y="2368.08" width="67.5" height="18.63" fill="#00cfff"/><rect x="1789.2" y="2350.04" width="67.5" height="18.63" fill="#00dfff"/><rect x="1789.2" y="2332.01" width="67.5" height="18.63" fill="#00efff"/><rect x="1789.2" y="2313.97" width="67.5" height="18.63" fill="#00ffff"/><rect x="1789.2" y="2295.94" width="67.5" height="18.63" fill="#10ffef"/><rect x="1789.2" y="2277.91" width="67.5" height="18.63" fill="#20ffdf"/><rect x="1789.2" y="2259.87" width="67.5" height="18.63" fill="#30ffcf"/><rect x="1789.2" y="2241.84" width="67.5" height="18.63" fill="#40ffbf"/><rect x="1789.2" y="2223.80" width="67.5" height="18.63" fill="#50ffaf"/><rect x="1789.2" y="2205.77" width="67.5" height="18.63" fill="#60ff9f"/><rect x="1789.2" y="2187.73" width="67.5" height="18.63" fill="#70ff8f"/><rect x="1789.2" y="2169.70" width="67.5" height="18.63" fill="#80ff80"/><rect x="1789.2" y="2151.67" width="67.5" height="18.63" fill="#8fff70"/><rect x="1789.2" y="2133.63" width="67.5" height="18.63" fill="#9fff60"/><rect x="1789.2" y="2115.60" width="67.5" height="18.63" fill="#afff50"/><rect x="1789.2" y="2097.56" width="67.5" height="18.63" fill="#bfff40"/><rect x="1789.2" y="2079.53" width="67.5" height="18.63" fill="#cfff30"/><rect x="1789.2" y="2061.49" width="67.5" height="18.63" fill="#dfff20"/><rect x="1789.2" y="2043.46" width="67.5" height="18.63" fill="#efff10"/><rect x="1789.2" y="2025.42" width="67.5" height="18.63" fill="#ffff00"/><rect x="1789.2" y="2007.39" width="67.5" height="18.63" fill="#ffef00"/><rect x="1789.2" y="1989.36" width="67.5" height="18.63" fill="#ffdf00"/><rect x="1789.2" y="1971.32" width="67.5" height="18.63" fill="#ffcf00"/><rect x="1789.2" y="1953.29" width="67.5" height="18.63" fill="#ffbf00"/><rect x="1789.2" y="1935.25" width="67.5" height="18.63" fill="#ffaf00"/><rect x="1789.2" y="1917.22" width="67.5" height="18.63" fill="#ff9f00"/><rect x="1789.2" y="1899.18" width="67.5" height="18.63" fill="#ff8f00"/><rect x="1789.2" y="1881.15" width="67.5" height="18.63" fill="#ff8000"/><rect x="1789.2" y="1863.12" width="67.5" height="18.63" fill="#ff7000"/><rect x="1789.2" y="1845.08" width="67.5" height="18.63" fill="#ff6000"/><rect x="1789.2" y="1827.05" width="67.5" height="18.63" fill="#ff5000"/><rect x="1789.2" y="1809.01" width="67.5" height="18.63" fill="#ff4000"/><rect x="1789.2" y="1790.98" width="67.5" height="18.63" fill="#ff3000"/><rect x="1789.2" y="1772.94" width="67.5" height="18.63" fill="#ff2000"/><rect x="1789.2" y="1754.91" width="67.5" height="18.63" fill="#ff1000"/><rect x="1789.2" y="1736.88" width="67.5" height="18.63" fill="#ff0000"/><rect x="1789.2" y="1718.84" width="67.5" height="18.63" fill="#ef0000"/><rect x="1789.2" y="1700.81" width="67.5" height="18.63" fill="#df0000"/><rect x="1789.2" y="1682.77" width="67.5" height="18.63" fill="#cf0000"/><rect x="1789.2" y="1664.74" width="67.5" height="18.63" fill="#bf0000"/><rect x="1789.2" y="1646.70" width="67.5" height="18.63" fill="#af0000"/><rect x="1789.2" y="1628.67" width="67.5" height="18.63" fill="#9f0000"/><rect x="1789.2" y="1610.63" width="67.5" height="18.63" fill="#8f0000"/><rect x="1789.2" y="1592.60" width="67.5" height="18.63" fill="#800000"/></g>
<rect x="1789.2" y="1592.6" width="67.5" height="1154.2" fill="none" stroke="rgba(38,38,38,0.75)" stroke-width="2.2"/>
<line x1="1844.2" y1="2638.1" x2="1856.7" y2="2638.1" stroke="rgba(38,38,38,0.45)" stroke-width="3" stroke-linecap="butt"/>
<line x1="1844.2" y1="2522" x2="1856.7" y2="2522" stroke="rgba(38,38,38,0.45)" stroke-width="3" stroke-linecap="butt"/>
<line x1="1844.2" y1="2405.8" x2="1856.7" y2="2405.8" stroke="rgba(38,38,38,0.45)" stroke-width="3" stroke-linecap="butt"/>
<line x1="1844.2" y1="2289.7" x2="1856.7" y2="2289.7" stroke="rgba(38,38,38,0.45)" stroke-width="3" stroke-linecap="butt"/>
<line x1="1844.2" y1="2173.6" x2="1856.7" y2="2173.6" stroke="rgba(38,38,38,0.45)" stroke-width="3" stroke-linecap="butt"/>
<line x1="1844.2" y1="2057.5" x2="1856.7" y2="2057.5" stroke="rgba(38,38,38,0.45)" stroke-width="3" stroke-linecap="butt"/>
<line x1="1844.2" y1="1941.3" x2="1856.7" y2="1941.3" stroke="rgba(38,38,38,0.45)" stroke-width="3" stroke-linecap="butt"/>
<line x1="1844.2" y1="1825.2" x2="1856.7" y2="1825.2" stroke="rgba(38,38,38,0.45)" stroke-width="3" stroke-linecap="butt"/>
<line x1="1844.2" y1="1709.1" x2="1856.7" y2="1709.1" stroke="rgba(38,38,38,0.45)" stroke-width="3" stroke-linecap="butt"/>
<g font-family='"Liberation Serif", "DejaVu Serif", serif' font-weight="bold" fill="#262626"><text x="1872.4" y="2655.1" font-size="46" textLength="57" lengthAdjust="spacingAndGlyphs">0.1</text><text x="1872.4" y="2539" font-size="46" textLength="57" lengthAdjust="spacingAndGlyphs">0.2</text><text x="1872.4" y="2422.8" font-size="46" textLength="57" lengthAdjust="spacingAndGlyphs">0.3</text><text x="1872.4" y="2306.7" font-size="46" textLength="57" lengthAdjust="spacingAndGlyphs">0.4</text><text x="1872.4" y="2190.6" font-size="46" textLength="57" lengthAdjust="spacingAndGlyphs">0.5</text><text x="1872.4" y="2074.5" font-size="46" textLength="57" lengthAdjust="spacingAndGlyphs">0.6</text><text x="1872.4" y="1958.3" font-size="46" textLength="57" lengthAdjust="spacingAndGlyphs">0.7</text><text x="1872.4" y="1842.2" font-size="46" textLength="57" lengthAdjust="spacingAndGlyphs">0.8</text><text x="1872.4" y="1726.1" font-size="46" textLength="57" lengthAdjust="spacingAndGlyphs">0.9</text></g>
<!-- captions -->
<g font-family='"Liberation Serif", "DejaVu Serif", serif' font-size="85" fill="#000">
<text x="621.7" y="1460.6" textLength="95.2" lengthAdjust="spacingAndGlyphs">(<tspan font-weight="bold">a</tspan>)</text>
<text x="756.1" y="1460.6" textLength="349.4" lengthAdjust="spacingAndGlyphs">Synthetic</text>
<text x="1122.3" y="1460.6" textLength="261.7" lengthAdjust="spacingAndGlyphs">dataset</text>
<text x="655.1" y="2986.6" textLength="108.3" lengthAdjust="spacingAndGlyphs">(<tspan font-weight="bold">b</tspan>)</text>
<text x="784.5" y="2986.6" textLength="283.4" lengthAdjust="spacingAndGlyphs">AVIRIS</text>
<text x="1086.2" y="2986.6" textLength="262.3" lengthAdjust="spacingAndGlyphs">dataset</text>
</g>
</svg>
</body>
</html>
